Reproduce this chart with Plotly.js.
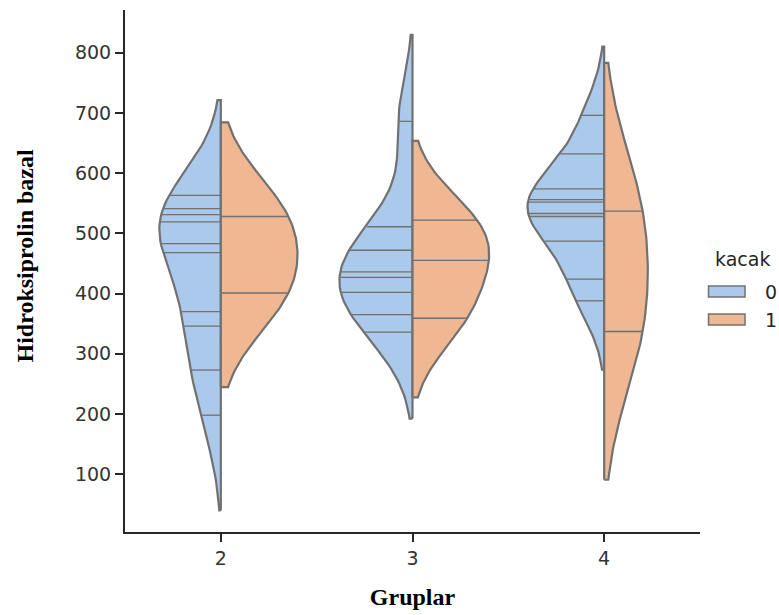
<!DOCTYPE html>
<html><head><meta charset="utf-8">
<script src="https://cdn.plot.ly/plotly-3.0.1.min.js"></script>
<style>html,body{margin:0;padding:0;background:#fff}</style>
</head><body><div id="chart" style="width:779px;height:615px"></div>
<script>
const groups = ['2', '3', '4'];
const hueLevels = ['0', '1'];
const g2_kacak0 = [198, 273, 346, 370, 468, 483, 519, 531, 541, 563];
const g2_kacak1 = [401, 528];
const g3_kacak0 = [336, 365, 402, 427, 436, 472, 511, 686];
const g3_kacak1 = [359, 455, 522];
const g4_kacak0 = [388, 424, 487, 528, 533, 552, 556, 574, 632, 696];
const g4_kacak1 = [337, 537];
const yTickVals = [100, 200, 300, 400, 500, 600, 700, 800];

// ---- styles / KDE settings (seaborn defaults: scott bandwidth, cut=2, gridsize=100) ----
const fillColors = ['#abc9ea', '#efb792'];
const edgeColor = '#717171';
const HALF_WIDTH = 0.4;
const CUT = 2;
const GRID = 100;

const seriesByGroup = [[g2_kacak0, g2_kacak1], [g3_kacak0, g3_kacak1], [g4_kacak0, g4_kacak1]];

function kde(data) {
  const n = data.length;
  const mean = data.reduce((a, b) => a + b, 0) / n;
  const sd = Math.sqrt(data.reduce((a, b) => a + (b - mean) * (b - mean), 0) / (n - 1));
  const bw = sd * Math.pow(n, -0.2);
  const lo = Math.min(...data) - CUT * bw, hi = Math.max(...data) + CUT * bw;
  const support = [], dens = [];
  for (let k = 0; k < GRID; k++) {
    const s = lo + (hi - lo) * k / (GRID - 1);
    let sum = 0;
    for (const x of data) { const z = (s - x) / bw; sum += Math.exp(-0.5 * z * z); }
    support.push(s);
    dens.push(sum / (n * bw * Math.sqrt(2 * Math.PI)));
  }
  return {support, dens, lo, hi};
}

const kdes = seriesByGroup.map(g => g.map(kde));
// area scaling, normalised within each group (scale_hue)
const maxByGroup = kdes.map(g => Math.max(...g.map(k => Math.max(...k.dens))));

const traces = [];
kdes.forEach((g, i) => {
  g.forEach((k, h) => {
    const side = h === 0 ? -1 : 1;
    const scale = HALF_WIDTH / maxByGroup[i];
    const xs = [i], ys = [k.lo];
    k.support.forEach((s, j) => { xs.push(i + side * k.dens[j] * scale); ys.push(s); });
    xs.push(i, i); ys.push(k.hi, k.lo);
    traces.push({
      type: 'scatter', mode: 'lines', x: xs, y: ys, fill: 'toself',
      fillcolor: fillColors[h], line: {color: edgeColor, width: 2.2},
      showlegend: false, hoverinfo: 'skip'
    });
  });
});
kdes.forEach((g, i) => {
  g.forEach((k, h) => {
    const side = h === 0 ? -1 : 1;
    const scale = HALF_WIDTH / maxByGroup[i];
    const sx = [], sy = [];
    seriesByGroup[i][h].forEach(v => {
      let best = 0;
      k.support.forEach((s, j) => { if (Math.abs(s - v) < Math.abs(k.support[best] - v)) best = j; });
      const w = k.dens[best] * scale * 0.99;
      sx.push(i, i + side * w, null); sy.push(v, v, null);
    });
    traces.push({
      type: 'scatter', mode: 'lines', x: sx, y: sy,
      line: {color: edgeColor, width: 1.3}, showlegend: false, hoverinfo: 'skip'
    });
  });
});

// manual legend (pixel positions converted to paper coords)
const L = 125, R = 700, T = 10, B = 532;
const px = x => (x - L) / (R - L);
const py = y => (B - y) / (B - T);
const shapes = [];
const annotations = [];
annotations.push({xref: 'paper', yref: 'paper', x: px(742), y: py(259), text: 'kacak', showarrow: false,
  xanchor: 'center', yanchor: 'middle', font: {family: 'DejaVu Sans', size: 19, color: '#262626'}});
hueLevels.forEach((lab, h) => {
  const yc = 291.5 + h * 28;
  shapes.push({type: 'rect', xref: 'paper', yref: 'paper', x0: px(708.5), x1: px(745), y0: py(yc - 5.5), y1: py(yc + 5.5),
    fillcolor: fillColors[h], line: {color: edgeColor, width: 1.5}});
  annotations.push({xref: 'paper', yref: 'paper', x: px(763), y: py(yc), text: lab, showarrow: false,
    xanchor: 'left', yanchor: 'middle', font: {family: 'DejaVu Sans', size: 19, color: '#262626'}});
});
annotations.push({xref: 'paper', yref: 'paper', x: px(25), y: py(255.5), text: 'Hidroksiprolin bazal', showarrow: false,
  textangle: -90, xanchor: 'center', yanchor: 'middle',
  font: {family: 'Liberation Serif', size: 24, weight: 'bold', color: '#000'}});

const layout = {
  width: 779, height: 615,
  margin: {l: 125, r: 79, t: 10, b: 83},
  paper_bgcolor: '#fff', plot_bgcolor: '#fff',
  showlegend: false,
  xaxis: {
    range: [-0.5, 2.5], tickvals: [0, 1, 2], ticktext: groups,
    showgrid: false, zeroline: false, showline: true, linecolor: '#262626', linewidth: 2,
    ticks: 'outside', ticklen: 8, tickwidth: 2, tickcolor: '#262626',
    tickfont: {family: 'DejaVu Sans', size: 19, color: '#333'},
    title: {text: 'Gruplar', standoff: 20, font: {family: 'Liberation Serif', size: 24, weight: 'bold', color: '#000'}}
  },
  yaxis: {
    range: [4, 871], tickvals: yTickVals,
    showgrid: false, zeroline: false, showline: true, linecolor: '#262626', linewidth: 2,
    ticks: 'outside', ticklen: 8, tickwidth: 2, tickcolor: '#262626',
    tickfont: {family: 'DejaVu Sans', size: 19, color: '#333'}
  },
  shapes: shapes,
  annotations: annotations
};
Plotly.newPlot('chart', traces, layout, {staticPlot: true, displayModeBar: false});
</script>
</body></html>
